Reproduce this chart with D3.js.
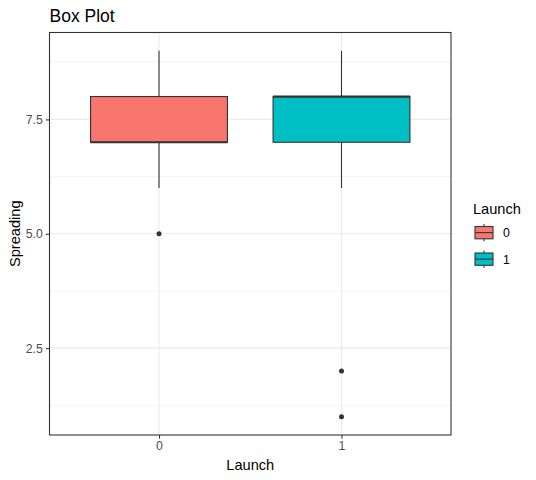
<!DOCTYPE html>
<html>
<head>
<meta charset="utf-8">
<script src="https://cdn.jsdelivr.net/npm/d3@7"></script>
<style>
  body { margin: 0; background: #fff; }
  text { font-family: "Liberation Sans", Arial, sans-serif; }
</style>
</head>
<body>
<svg width="536" height="480"></svg>
<script>
// box stats per Launch group
var categories = ["0", "1"];
var lower = [6, 6];
var q1 = [7, 7];
var median = [7, 8];
var q3 = [8, 8];
var upper = [9, 9];
var outliers = [[5], [2, 1]];
var colors = ["#F8766D", "#00BFC4"];
var yTicks = [2.5, 5.0, 7.5];
var yMinor = [1.25, 3.75, 6.25, 8.75];

var margin = { top: 32.5, right: 85, bottom: 45, left: 49.5 },
  width = 536,
  height = 480;

var svg = d3.select("svg");

var x = d3.scaleLinear().domain([0.4, 2.6]).range([margin.left, width - margin.right]);
var y = d3.scaleLinear().domain([0.6, 9.4]).range([height - margin.bottom, margin.top]);

var boxes = categories.map(function(c, i) {
  return { cat: c, i: i + 1, lower: lower[i], q1: q1[i], median: median[i], q3: q3[i], upper: upper[i], out: outliers[i], color: colors[i] };
});

// grid
var grid = svg.append("g");
grid.selectAll(".minor").data(yMinor).join("line")
  .attr("x1", x.range()[0]).attr("x2", x.range()[1])
  .attr("y1", d => y(d)).attr("y2", d => y(d))
  .style("stroke", "#EBEBEB").style("stroke-width", 0.55);
grid.selectAll(".major").data(yTicks).join("line")
  .attr("x1", x.range()[0]).attr("x2", x.range()[1])
  .attr("y1", d => y(d)).attr("y2", d => y(d))
  .style("stroke", "#EBEBEB").style("stroke-width", 1.1);
grid.selectAll(".vmajor").data(boxes).join("line")
  .attr("x1", d => x(d.i)).attr("x2", d => x(d.i))
  .attr("y1", y.range()[0]).attr("y2", y.range()[1])
  .style("stroke", "#EBEBEB").style("stroke-width", 1.1);

// boxes
var bw = x(0.75) - x(0);
var g = svg.append("g").selectAll("g").data(boxes).join("g");
g.append("line")
  .attr("x1", d => x(d.i)).attr("x2", d => x(d.i))
  .attr("y1", d => y(d.upper)).attr("y2", d => y(d.q3))
  .style("stroke", "#333333").style("stroke-width", 1.1);
g.append("line")
  .attr("x1", d => x(d.i)).attr("x2", d => x(d.i))
  .attr("y1", d => y(d.q1)).attr("y2", d => y(d.lower))
  .style("stroke", "#333333").style("stroke-width", 1.1);
g.append("rect")
  .attr("x", d => x(d.i) - bw / 2).attr("width", bw)
  .attr("y", d => y(d.q3)).attr("height", d => y(d.q1) - y(d.q3))
  .style("fill", d => d.color).style("stroke", "#333333").style("stroke-width", 1.1);
g.append("line")
  .attr("x1", d => x(d.i) - bw / 2).attr("x2", d => x(d.i) + bw / 2)
  .attr("y1", d => y(d.median)).attr("y2", d => y(d.median))
  .style("stroke", "#333333").style("stroke-width", 2.2);
g.selectAll("circle").data(d => d.out.map(v => ({ i: d.i, v: v }))).join("circle")
  .attr("cx", d => x(d.i)).attr("cy", d => y(d.v)).attr("r", 2.5)
  .style("fill", "#333333");

// panel border
svg.append("rect")
  .attr("x", x.range()[0]).attr("y", y.range()[1])
  .attr("width", x.range()[1] - x.range()[0]).attr("height", y.range()[0] - y.range()[1])
  .style("fill", "none").style("stroke", "#333333").style("stroke-width", 1.1);

// axes
var yAxis = svg.append("g")
  .attr("transform", "translate(" + x.range()[0] + ",0)")
  .call(d3.axisLeft(y).tickValues(yTicks).tickFormat(d3.format(".1f")).tickSize(3.7).tickPadding(3));
var xAxis = svg.append("g")
  .attr("transform", "translate(0," + y.range()[0] + ")")
  .call(d3.axisBottom(x).tickValues([1, 2]).tickFormat((d, i) => categories[i]).tickSize(3.7).tickPadding(3));
[xAxis, yAxis].forEach(function(a) {
  a.select(".domain").remove();
  a.selectAll(".tick line").style("stroke", "#333333").style("stroke-width", 1.1);
  a.selectAll(".tick text").style("fill", "#4D4D4D").style("font-size", "12.3px")
    .style("font-family", "'Liberation Sans', Arial, sans-serif");
});

// titles
svg.append("text").attr("x", 49.5).attr("y", 22).text("Box Plot")
  .style("font-size", "17.5px").style("fill", "#000");
svg.append("text").attr("x", (x.range()[0] + x.range()[1]) / 2).attr("y", 470)
  .attr("text-anchor", "middle").text("Launch").style("font-size", "14.6px");
svg.append("text")
  .attr("transform", "translate(20," + (y.range()[0] + y.range()[1]) / 2 + ") rotate(-90)")
  .attr("text-anchor", "middle").text("Spreading").style("font-size", "14.6px");

// legend
var legend = svg.append("g").attr("transform", "translate(475,0)");
legend.append("text").attr("x", -2).attr("y", 213.5).text("Launch").style("font-size", "14.6px");
var key = legend.selectAll(".key").data(boxes).join("g")
  .attr("transform", (d, i) => "translate(0," + (224 + i * 26.5) + ")");
key.append("line").attr("x1", 9).attr("x2", 9).attr("y1", 0).attr("y2", 17.3)
  .style("stroke", "#333333").style("stroke-width", 1.1);
key.append("rect").attr("x", 0).attr("y", 2.5).attr("width", 18).attr("height", 12.3)
  .style("fill", d => d.color).style("stroke", "#333333").style("stroke-width", 1.1);
key.append("line").attr("x1", 0).attr("x2", 18).attr("y1", 8.65).attr("y2", 8.65)
  .style("stroke", "#333333").style("stroke-width", 1.1);
key.append("text").attr("x", 28).attr("y", 8.65).attr("dy", "0.36em")
  .text(d => d.cat).style("font-size", "12.3px");
</script>
</body>
</html>
